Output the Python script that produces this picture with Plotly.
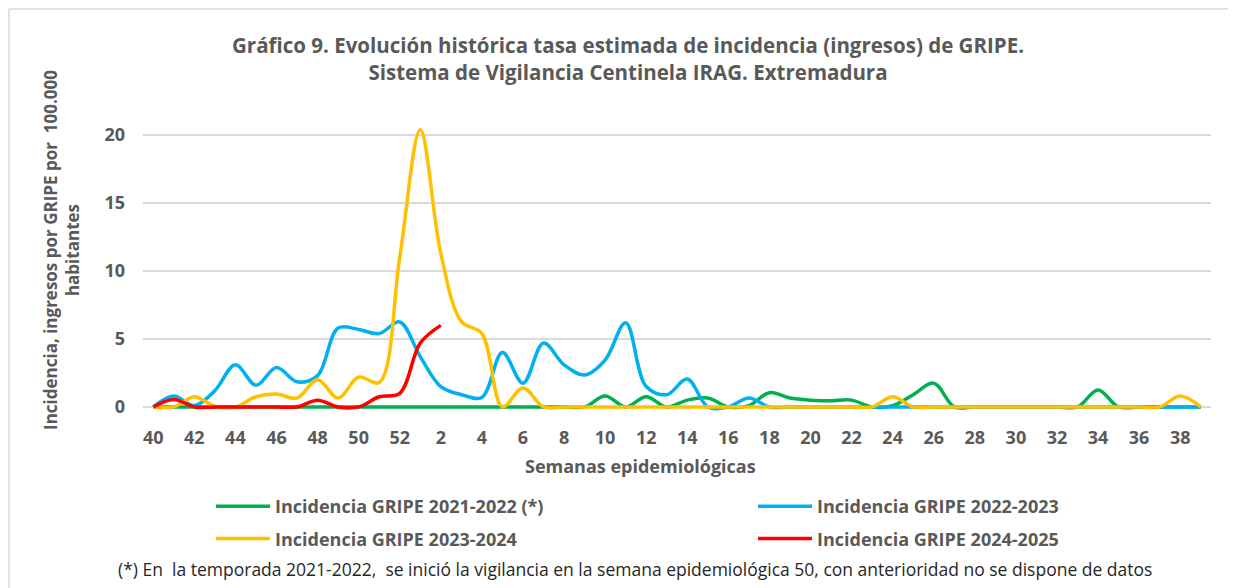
import plotly.graph_objects as go

weeks = [str(w) for w in list(range(40, 53)) + list(range(1, 40))]
tick_weeks = weeks[::2]

g2122 = [0, 0, 0, 0, 0, 0, 0, 0, 0, 0, 0, 0, 0,
         0, 0, 0, 0, 0, 0, 0, 0, 0, 0.8, 0, 0.75, 0, 0.5, 0.65, 0, 0.1, 1.05, 0.65, 0.5,
         0.45, 0.5, 0, 0.1, 0.9, 1.75, 0, 0, 0, 0, 0, 0, 0, 1.25, 0, 0, 0, 0, 0]
g2223 = [0, 0.8, 0.1, 1.2, 3.1, 1.6, 2.9, 1.85, 2.3, 5.8, 5.7, 5.4, 6.25,
         3.7, 1.5, 0.9, 0.7, 4.0, 1.75, 4.7, 3.1, 2.35, 3.45, 6.2, 1.5, 0.9, 2.05, 0, 0, 0.65, 0, 0, 0,
         0, 0, 0, 0, 0, 0, 0, 0, 0, 0, 0, 0, 0, 0, 0, 0, 0, 0, 0]
g2324 = [0, 0, 0.75, 0.05, 0, 0.75, 0.95, 0.65, 2.0, 0.65, 2.2, 1.8, 11.0,
         20.4, 11.3, 6.3, 5.4, 0, 1.4, 0, 0, 0, 0, 0, 0, 0, 0, 0, 0, 0, 0, 0, 0,
         0, 0, 0, 0.75, 0, 0, 0, 0, 0, 0, 0, 0, 0, 0, 0, 0, 0, 0.8, 0]
g2425 = [0, 0.55, 0, 0, 0, 0, 0, 0, 0.5, 0, 0, 0.75, 1.0,
         4.7, 6.0] + [None] * 37

series = [
    ("Incidencia GRIPE 2021-2022 (*)", g2122, "#00B050", "legend"),
    ("Incidencia GRIPE 2022-2023", g2223, "#00B0F0", "legend2"),
    ("Incidencia GRIPE 2023-2024", g2324, "#FFC000", "legend"),
    ("Incidencia GRIPE 2024-2025", g2425, "#FF0000", "legend2"),
]

FONT = "Open Sans"
GREY = "#595959"

# page is offset by the body margin (8 px); work in reference-page pixels
OFF = 8
W, H = 1236 - OFF, 588 - OFF
PL, PR, PT, PB = 143, 1211, 127, 411          # plot area in page pixels
L, R, T, B = PL - OFF, W - (PR - OFF), PT - OFF, H - (PB - OFF)
pw, ph = W - L - R, H - T - B


def px(xpage):
    return (xpage - OFF - L) / pw


def py(ypage):
    return (H - B - (ypage - OFF)) / ph


fig = go.Figure()
for i, (name, vals, col, leg) in enumerate(series):
    fig.add_trace(go.Scatter(
        x=weeks, y=vals, name=name, mode="lines",
        line=dict(color=col, width=3.5, shape="spline", smoothing=1.0),
        connectgaps=False, legend=leg, legendgroup="g%d" % i,
    ))

legfont = dict(family=FONT, size=18, color=GREY, weight="bold")
fig.update_layout(
    width=W, height=H,
    margin=dict(l=L, r=R, t=T, b=B, autoexpand=False),
    paper_bgcolor="white", plot_bgcolor="white",
    font=dict(family=FONT, color=GREY),
    showlegend=True,
    legend=dict(
        orientation="v", x=px(211), xanchor="left", y=py(488), yanchor="top",
        font=legfont, tracegroupgap=6, itemwidth=54, bgcolor="rgba(0,0,0,0)",
    ),
    legend2=dict(
        orientation="v", x=px(753), xanchor="left", y=py(488), yanchor="top",
        font=legfont, tracegroupgap=6, itemwidth=54, bgcolor="rgba(0,0,0,0)",
    ),
    xaxis=dict(
        type="category", categoryorder="array", categoryarray=weeks,
        range=[-0.5, len(weeks) - 0.5], automargin=False,
        tickmode="array", tickvals=tick_weeks, ticktext=tick_weeks,
        showgrid=False, zeroline=False, showline=False, ticks="",
        tickfont=dict(family=FONT, size=18, color=GREY, weight="bold"),
        ticklabelstandoff=14,
    ),
    yaxis=dict(
        range=[-0.3, 20.6], tickvals=[0, 5, 10, 15, 20], automargin=False,
        showgrid=True, gridcolor="#D9D9D9", gridwidth=1.5,
        zeroline=False, showline=False, ticks="",
        tickfont=dict(family=FONT, size=18, color=GREY, weight="bold"),
        ticklabelstandoff=17,
    ),
    title=dict(
        text="Gráfico 9. Evolución histórica tasa estimada de incidencia (ingresos) de GRIPE.<br>Sistema de Vigilancia Centinela IRAG. Extremadura",
        xref="container", x=(628 - OFF) / W, xanchor="center",
        yref="container", y=1 - (53 - OFF) / H, yanchor="middle",
        font=dict(family=FONT, size=20.5, color=GREY, weight="bold"),
    ),
)

fig.add_annotation(
    text="Semanas epidemiológicas",
    xref="paper", yref="paper", x=px(640), y=py(466),
    xanchor="center", yanchor="middle", showarrow=False,
    font=dict(family=FONT, size=18, color=GREY, weight="bold"),
)
fig.add_annotation(
    text="Incidencia, ingresos por GRIPE por  100.000<br>habitantes",
    xref="paper", yref="paper", x=px(61), y=py(250),
    xanchor="center", yanchor="middle", textangle=-90, showarrow=False,
    font=dict(family=FONT, size=17, color=GREY, weight="bold"),
)
fig.add_annotation(
    text="(*) En  la temporada 2021-2022,  se inició la vigilancia en la semana epidemiológica 50, con anterioridad no se dispone de datos",
    xref="paper", yref="paper", x=px(635), y=py(569),
    xanchor="center", yanchor="middle", showarrow=False,
    font=dict(family=FONT, size=17.5, color="#262626"),
)
# chart-area border (top and left edges)
fig.add_shape(type="line", xref="paper", yref="paper",
              x0=px(9), x1=px(1240), y0=py(9), y1=py(9),
              line=dict(color="#D9D9D9", width=1.5))
fig.add_shape(type="line", xref="paper", yref="paper",
              x0=px(9), x1=px(9), y0=py(9), y1=py(600),
              line=dict(color="#D9D9D9", width=1.5))

fig.write_html("out.html")
